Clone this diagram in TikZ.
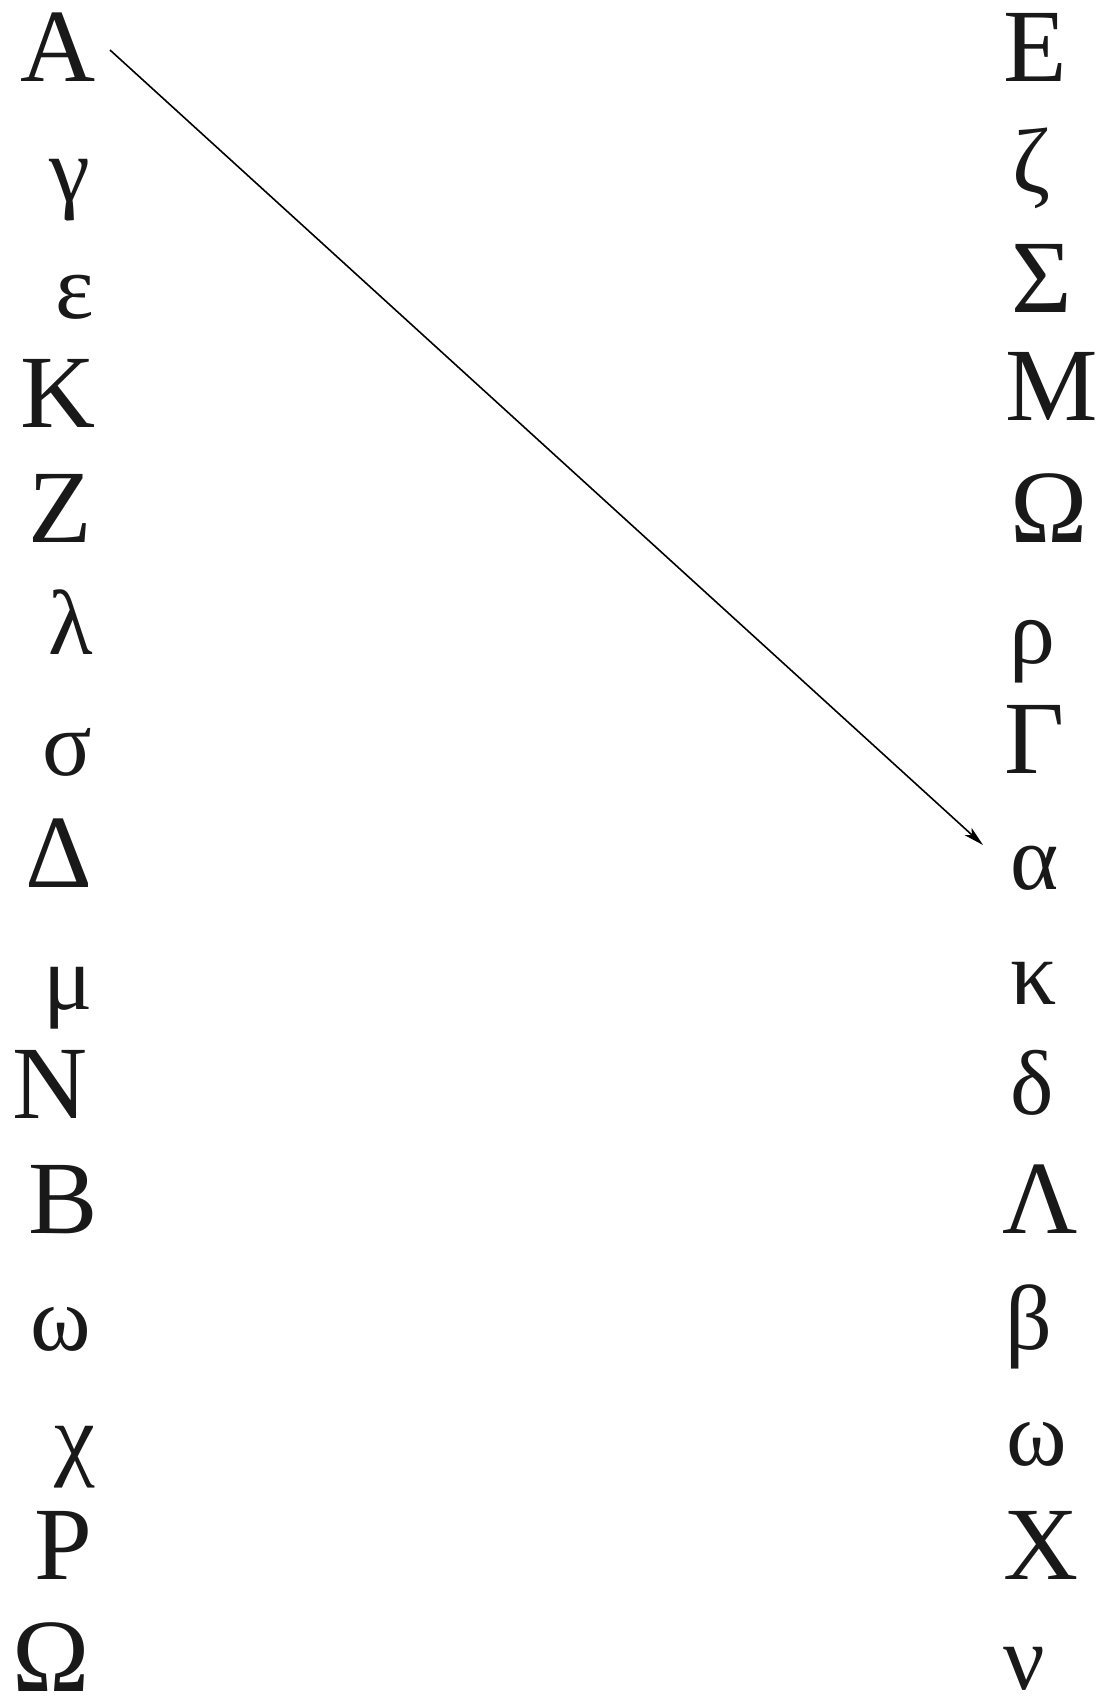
\documentclass[tikz,border=0pt]{standalone}
\usepackage{fontspec}
\setmainfont{Liberation Serif}
\usetikzlibrary{arrows.meta,calc}
\begin{document}
\begin{tikzpicture}[x=1pt,y=-1pt,
  glyph/.style={inner sep=0pt,outer sep=0pt,anchor=center,text=black!90},
  capl/.style={glyph,font=\fontsize{104}{104}\selectfont},
  lowl/.style={glyph,font=\fontsize{92}{92}\selectfont},
  link/.style={line width=1.6pt,-{Stealth[length=20pt,width=10pt,inset=5pt]}}]
\useasboundingbox[fill=white] (0,0) rectangle (1102,1697);
% left column
\node[capl] (L1)  at (58.5,47.5)  {Α};
\node[lowl] (L2)  at (69.5,190)   {γ};
\node[lowl] (L3)  at (74.5,297.5) {ε};
\node[capl] (L4)  at (58,393.5)   {Κ};
\node[capl] (L5)  at (60,508)     {Ζ};
\node[lowl] (L6)  at (70.5,622.5) {λ};
\node[lowl] (L7)  at (67.5,752.5) {σ};
\node[capl] (L8)  at (59,853.5)   {Δ};
\node[lowl] (L9)  at (68.5,998)   {μ};
\node[capl] (L10) at (50,1084)    {Ν};
\node[capl] (L11) at (63,1200)    {Β};
\node[lowl] (L12) at (60.5,1329)  {ω};
\node[lowl] (L13) at (74.5,1457)  {χ};
\node[capl] (L14) at (63,1545)    {Ρ};
\node[capl] (L15) at (51.5,1657)  {Ω};
% right column
\node[capl] (R1)  at (1035.5,47.5) {Ε};
\node[lowl] (R2)  at (1032,168)    {ζ};
\node[capl] (R3)  at (1042,278)    {Σ};
\node[capl] (R4)  at (1052,386)    {Μ};
\node[capl] (R5)  at (1049.5,508)  {Ω};
\node[lowl] (R6)  at (1032,652)    {ρ};
\node[capl] (R7)  at (1035,739)    {Γ};
\node[lowl] (R8)  at (1035,868)    {α};
\node[lowl] (R9)  at (1034,983.5)  {κ};
\node[lowl] (R10) at (1032.5,1082.5) {δ};
\node[capl] (R11) at (1040,1199)   {Λ};
\node[lowl] (R12) at (1029,1327)   {β};
\node[lowl] (R13) at (1036.5,1444) {ω};
\node[capl] (R14) at (1041,1545)   {Χ};
\node[lowl] (R15) at (1024,1669)   {ν};
% connector
\draw[link] ($(L1.center)+(51.5,2.5)$) -- ($(R8.center)+(-52,-23)$);
\end{tikzpicture}
\end{document}
